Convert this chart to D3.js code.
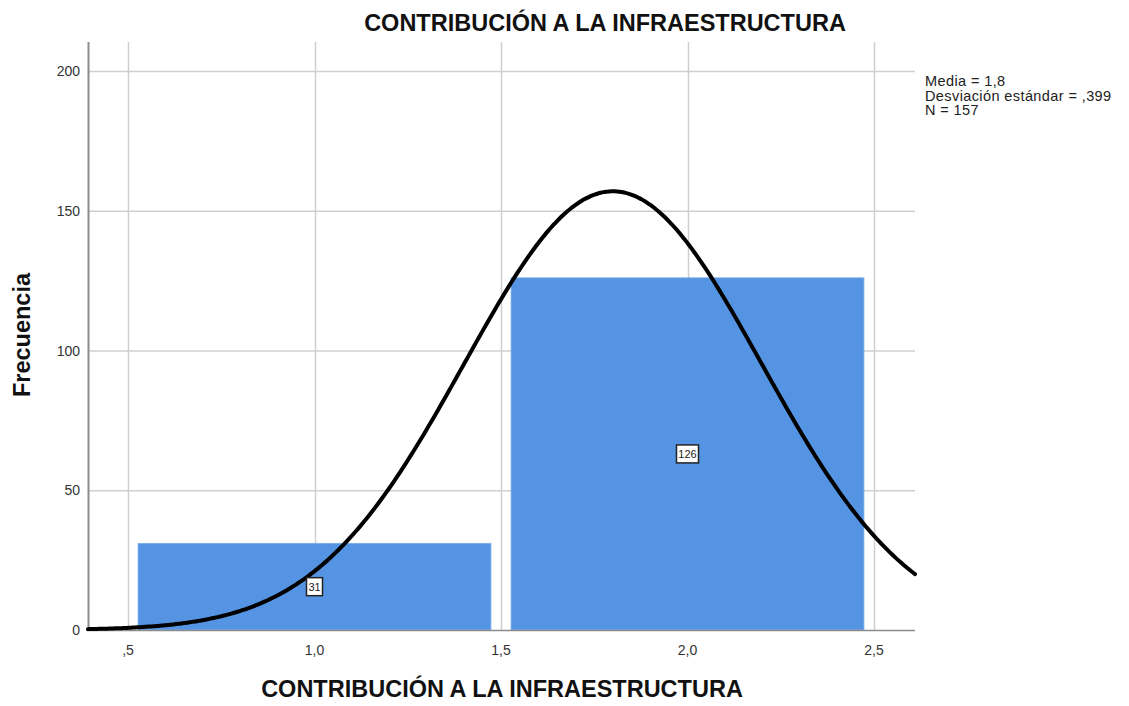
<!DOCTYPE html>
<html><head><meta charset="utf-8">
<script src="https://cdn.jsdelivr.net/npm/d3@7"></script>
<style>body{margin:0;background:#fff}svg{display:block;font-family:"Liberation Sans",Arial,sans-serif}</style>
</head><body><svg id="c" width="1129" height="706"></svg>
<script>
const binStarts = [0.5, 1.5];
const binEnds = [1.5, 2.5];
const counts = [31, 126];
const xTicks = [0.5, 1.0, 1.5, 2.0, 2.5];
const xTickLabels = [",5", "1,0", "1,5", "2,0", "2,5"];
const yTicks = [0, 50, 100, 150, 200];
const statsLines = ["Media = 1,8", "Desviación estándar = ,399", "N = 157"];
const mean = 1.8, sd = 0.399, n = 157, binWidth = 1;

const svg = d3.select("#c");
const L = 88, R = 915, T = 42, B = 630;
const x = d3.scaleLinear().domain([0.5, 2.5]).range([128, 874]);
const y = d3.scaleLinear().domain([0, 200]).range([630, 71]);
const xMin = x.invert(L), xMax = x.invert(R);

// grid
svg.append("g").selectAll("line").data(yTicks.filter(d=>d>0)).join("line")
  .attr("x1", L).attr("x2", R).attr("y1", d=>y(d)+0.5).attr("y2", d=>y(d)+0.5)
  .attr("stroke", "#cfcfcf").attr("stroke-width", 1.5);
svg.append("g").selectAll("line").data(xTicks).join("line")
  .attr("x1", d=>Math.round(x(d))+0.5).attr("x2", d=>Math.round(x(d))+0.5).attr("y1", T).attr("y2", B)
  .attr("stroke", "#cfcfcf").attr("stroke-width", 1.5);

// bars
const pad = (x(binWidth) - x(0)) * 0.027;
svg.append("g").selectAll("rect").data(counts).join("rect")
  .attr("x", (d,i)=>x(binStarts[i]) + pad)
  .attr("width", (d,i)=>x(binEnds[i]) - x(binStarts[i]) - 2*pad)
  .attr("y", d=>y(d)).attr("height", d=>y(0)-y(d))
  .attr("fill", "#5594e3").attr("stroke", "#7aaeea").attr("stroke-width", 0.8);

// axes lines
svg.append("line").attr("x1", L+0.5).attr("x2", L+0.5).attr("y1", T).attr("y2", B+1)
  .attr("stroke", "#8c8c8c").attr("stroke-width", 2);
svg.append("line").attr("x1", L).attr("x2", R).attr("y1", B+0.5).attr("y2", B+0.5)
  .attr("stroke", "#8c8c8c").attr("stroke-width", 1.5);

// normal curve
const pts = d3.range(0, 301).map(i => {
  const xv = xMin + (xMax - xMin) * i / 300;
  const yv = n * binWidth / (sd * Math.sqrt(2*Math.PI)) * Math.exp(-0.5*((xv-mean)/sd)**2);
  return [xv, yv];
});
svg.append("path").datum(pts)
  .attr("d", d3.line().x(d=>x(d[0])).y(d=>y(d[1])).curve(d3.curveBasis))
  .attr("fill", "none").attr("stroke", "#000").attr("stroke-width", 4).attr("stroke-linecap","round");

// bar labels
counts.forEach((c, i) => {
  const cx = x((binStarts[i]+binEnds[i])/2), cy = y(c/2);
  const g = svg.append("g");
  const w = c >= 100 ? 22 : 16;
  g.append("rect").attr("x", cx - w/2).attr("y", cy - 9).attr("width", w).attr("height", 18)
    .attr("fill", "#fff").attr("stroke", "#222").attr("stroke-width", 1.5);
  g.append("text").attr("x", cx).attr("y", cy + 4).attr("text-anchor", "middle")
    .attr("font-size", 11).attr("fill", "#222").text(c);
});

// tick labels
svg.append("g").selectAll("text").data(xTicks).join("text")
  .attr("x", d=>x(d)).attr("y", 655).attr("text-anchor", "middle")
  .attr("font-size", 14).attr("fill", "#333").text((d,i)=>xTickLabels[i]);
svg.append("g").selectAll("text").data(yTicks).join("text")
  .attr("x", 80).attr("y", d=>y(d)+5).attr("text-anchor", "end")
  .attr("font-size", 14).attr("fill", "#333").text(d=>d);

// titles
svg.append("text").attr("x", 605).attr("y", 31).attr("text-anchor", "middle")
  .attr("font-size", 23.5).attr("font-weight", "bold").attr("fill", "#111")
  .text("CONTRIBUCIÓN A LA INFRAESTRUCTURA");
svg.append("text").attr("x", 502).attr("y", 697).attr("text-anchor", "middle")
  .attr("font-size", 23.5).attr("font-weight", "bold").attr("fill", "#111")
  .text("CONTRIBUCIÓN A LA INFRAESTRUCTURA");
svg.append("text").attr("transform", "translate(30,335) rotate(-90)").attr("text-anchor", "middle")
  .attr("font-size", 23.5).attr("font-weight", "bold").attr("fill", "#111").text("Frecuencia");

// stats
svg.append("g").selectAll("text").data(statsLines).join("text")
  .attr("x", 925).attr("y", (d,i)=>86 + i*14.5).attr("font-size", 14.5).attr("letter-spacing", 0.4)
  .attr("fill", "#222").text(d=>d);
</script></body></html>
